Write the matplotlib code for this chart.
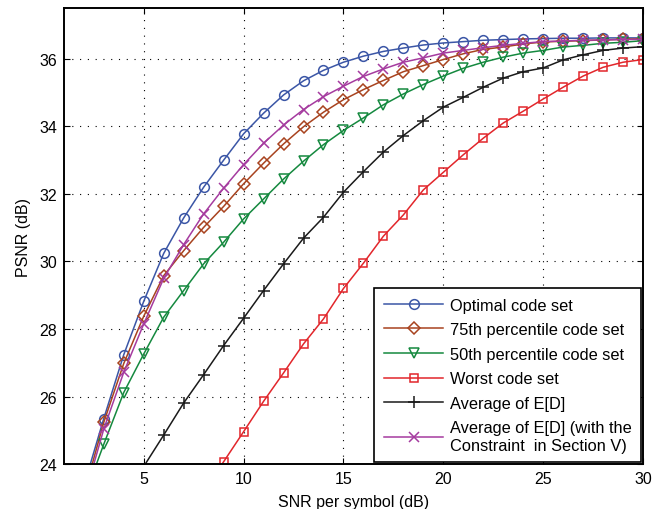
import numpy as np
import matplotlib
matplotlib.use('Agg')
import matplotlib.pyplot as plt

# SNR per symbol (dB)
snr = np.arange(2, 31)

# PSNR (dB), values below 24 are clipped by the axis
optimal = [23.35, 25.35, 27.24, 28.82, 30.24, 31.29, 32.20, 33.00, 33.78, 34.39, 34.93,
           35.35, 35.66, 35.90, 36.08, 36.22, 36.32, 36.41, 36.47, 36.51, 36.55, 36.57,
           36.59, 36.60, 36.61, 36.61, 36.62, 36.62, 36.62]
pct75 = [23.10, 25.24, 26.98, 28.38, 29.58, 30.32, 31.01, 31.63, 32.30, 32.91, 33.48,
         33.99, 34.42, 34.79, 35.09, 35.36, 35.62, 35.80, 35.98, 36.15, 36.28, 36.35,
         36.44, 36.50, 36.52, 36.54, 36.56, 36.58, 36.59]
pct50 = [22.99, 24.59, 26.12, 27.26, 28.35, 29.14, 29.93, 30.57, 31.26, 31.85, 32.44,
         32.97, 33.46, 33.88, 34.25, 34.64, 34.96, 35.24, 35.49, 35.72, 35.90, 36.05,
         36.17, 36.25, 36.35, 36.40, 36.46, 36.49, 36.54]
# worst code set starts above 24 dB only from 9 dB on
worst = [np.nan, np.nan, np.nan, np.nan, np.nan, np.nan, 23.20,
         24.07, 24.96, 25.86, 26.70, 27.56, 28.30, 29.20, 29.95,
         30.75, 31.38, 32.12, 32.64, 33.16, 33.65, 34.10, 34.45,
         34.81, 35.16, 35.49, 35.75, 35.90, 35.98]
avg_ed = [np.nan, np.nan, np.nan, 23.93, 24.86, 25.81, 26.65, 27.51, 28.32, 29.14, 29.93,
          30.69, 31.31, 32.05, 32.66, 33.24, 33.73, 34.17, 34.57, 34.86, 35.16, 35.43,
          35.62, 35.73, 35.97, 36.12, 36.25, 36.32, 36.36]
avg_ed_con = [22.96, 25.04, 26.72, 28.15, 29.50, 30.50, 31.41, 32.17, 32.87, 33.50, 34.04,
              34.50, 34.88, 35.19, 35.48, 35.70, 35.90, 36.03, 36.17, 36.25, 36.33, 36.40,
              36.46, 36.51, 36.53, 36.55, 36.56, 36.57, 36.58]

labels = ['Optimal code set', '75th percentile code set', '50th percentile code set',
          'Worst code set', 'Average of E[D]',
          'Average of E[D] (with the\nConstraint  in Section V)']
series = [optimal, pct75, pct50, worst, avg_ed, avg_ed_con]
colors = ['#3b56a6', '#a8431f', '#15893f', '#e2262b', '#1a1a1a', '#a53b9f']
markers = ['o', 'D', 'v', 's', '+', 'x']
msizes = [7, 6, 7, 6, 9, 7]

plt.rcParams['font.family'] = ['Liberation Sans', 'DejaVu Sans']

fig = plt.figure(figsize=(6.65, 5.1), dpi=100)
ax = fig.add_axes([0.096, 0.088, 0.871, 0.894])

ymin = 24
for y, lab, c, m, ms in zip(series, labels, colors, markers, msizes):
    y = np.array(y, dtype=float)
    visible = np.nan_to_num(y, nan=0) >= ymin - 0.01
    ax.plot(snr, y, color=c, marker=m, markersize=ms, markerfacecolor='none',
            markeredgecolor=c, markeredgewidth=1.1, linewidth=1.1,
            markevery=list(visible), label=lab)

ax.set_xlim(1, 30)
ax.set_ylim(24, 37.5)
ax.set_xticks([5, 10, 15, 20, 25, 30])
ax.set_yticks([24, 26, 28, 30, 32, 34, 36])
ax.grid(True, color='black', linestyle=(0, (1, 6)), linewidth=0.8)
ax.tick_params(direction='in', top=True, right=True, labelsize=11.5, length=4, pad=5)
for s in ax.spines.values():
    s.set_linewidth(1.4)

ax.set_xlabel('SNR per symbol (dB)', fontsize=11.5, labelpad=6)
ax.set_ylabel('PSNR (dB)', fontsize=11.5, labelpad=6)

leg = ax.legend(loc='lower right', fontsize=11.8, numpoints=1, borderaxespad=0.1,
                fancybox=False, framealpha=1, edgecolor='black', handlelength=3.6,
                handletextpad=0.4, labelspacing=0.58, borderpad=0.6)
leg.get_frame().set_linewidth(1.2)

fig.savefig('out.png', dpi=100)
